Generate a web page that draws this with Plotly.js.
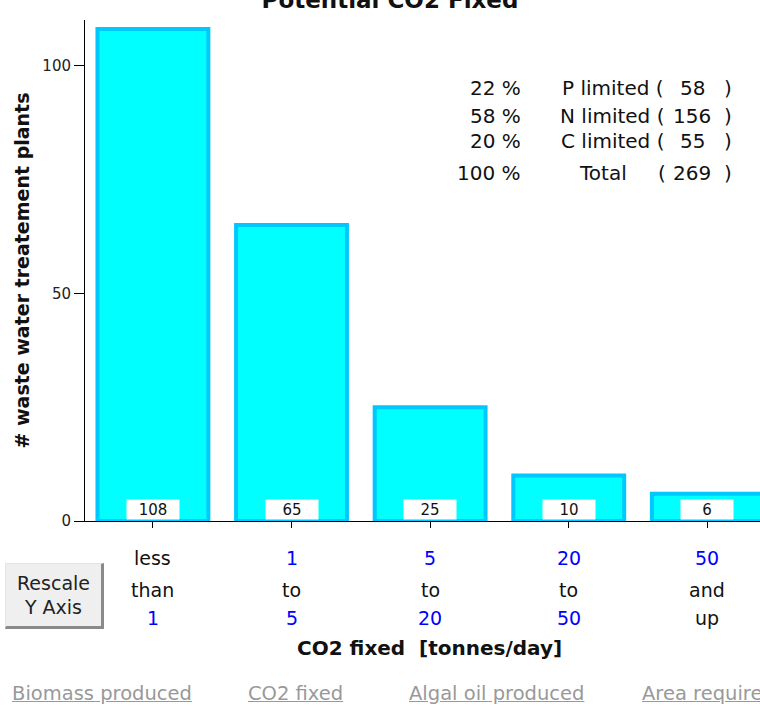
<!DOCTYPE html>
<html>
<head>
<meta charset="utf-8">
<script src="https://cdn.plot.ly/plotly-3.0.1.min.js"></script>
<style>
  html, body { margin: 0; padding: 0; background: #fff; }
  #wrap { position: relative; width: 760px; height: 722px; overflow: hidden; }
  #chart { position: absolute; left: 0; top: 0; width: 760px; height: 722px; }
  #btn {
    position: absolute; left: 5px; top: 563px; width: 99px; height: 66px;
    background: #efefef; border-top: 1px solid #e4e4e4; border-left: 1px solid #e4e4e4;
    border-right: 3px solid #8a8a8a; border-bottom: 3px solid #8a8a8a;
    font-family: "DejaVu Sans", Verdana, sans-serif; font-size: 19px; color: #222;
    text-align: center; line-height: 24px; padding-top: 7px; box-sizing: border-box;
  }
  .lnk {
    position: absolute; top: 682px; font-family: "DejaVu Sans", Verdana, sans-serif;
    font-size: 19.5px; color: #999; text-decoration: underline; white-space: nowrap;
  }
</style>
</head>
<body>
<div id="wrap">
  <div id="chart"></div>
  <div id="btn">Rescale<br>Y Axis</div>
  <span class="lnk" style="left:12px">Biomass produced</span>
  <span class="lnk" style="left:248px">CO2 fixed</span>
  <span class="lnk" style="left:409px">Algal oil produced</span>
  <span class="lnk" style="left:642px">Area required</span>
</div>
<script>
// ---- data ----
var categories = ['<1', '1-5', '5-20', '20-50', '50+'];
var plantCounts = [108, 65, 25, 10, 6];
var labelLine1 = ['less', '1', '5', '20', '50'];
var labelLine2 = ['than', 'to', 'to', 'to', 'and'];
var labelLine3 = ['1', '5', '20', '50', 'up'];
var limitPct = ['22 %', '58 %', '20 %', '100 %'];
var limitName = ['P limited (', 'N limited (', 'C limited (', 'Total'];
var limitCount = ['58', '156', '55', '269'];

var FONT = '"DejaVu Sans", Verdana, sans-serif';
// plot area in pixels: left 85, right 760, top 20, bottom 521
function px(x) { return (x - 85) / 675; }
function py(y) { return (521 - y) / 501; }

var annotations = [];
// value boxes on bars
categories.forEach(function (c, i) {
  annotations.push({
    x: c, xref: 'x', y: 0, yref: 'y', yanchor: 'bottom', yshift: 1,
    text: String(plantCounts[i]), showarrow: false,
    bgcolor: '#ffffff', width: 50, height: 17,
    font: { family: FONT, size: 15, color: '#111' }
  });
});
// three-line category labels
function isNum(s) { return /^[0-9]+$/.test(s); }
[[labelLine1, 558], [labelLine2, 590], [labelLine3, 618]].forEach(function (row) {
  categories.forEach(function (c, i) {
    var t = row[0][i];
    annotations.push({
      x: c, xref: 'x', y: py(row[1]), yref: 'paper', yanchor: 'middle',
      text: t, showarrow: false,
      font: { family: FONT, size: 19, color: isNum(t) ? '#0000ff' : '#111' }
    });
  });
});
// limitation table
var rowY = [88, 116, 141, 173];
var TF = { family: FONT, size: 20, color: '#111' };
limitPct.forEach(function (p, i) {
  var y = py(rowY[i]);
  annotations.push({ x: px(523), xref: 'paper', y: y, yref: 'paper', xanchor: 'right', yanchor: 'middle',
    text: p, showarrow: false, font: TF });
  if (i < 3) {
    annotations.push({ x: px(666), xref: 'paper', y: y, yref: 'paper', xanchor: 'right', yanchor: 'middle',
      text: limitName[i], showarrow: false, font: TF });
  } else {
    annotations.push({ x: px(603), xref: 'paper', y: y, yref: 'paper', xanchor: 'center', yanchor: 'middle',
      text: limitName[i], showarrow: false, font: TF });
    annotations.push({ x: px(662), xref: 'paper', y: y, yref: 'paper', xanchor: 'center', yanchor: 'middle',
      text: '(', showarrow: false, font: TF });
  }
  annotations.push({ x: px(692), xref: 'paper', y: y, yref: 'paper', xanchor: 'center', yanchor: 'middle',
    text: limitCount[i], showarrow: false, font: TF });
  annotations.push({ x: px(728), xref: 'paper', y: y, yref: 'paper', xanchor: 'center', yanchor: 'middle',
    text: ')', showarrow: false, font: TF });
});
// x-axis title
annotations.push({ x: px(429), xref: 'paper', y: py(648), yref: 'paper', yanchor: 'middle',
  text: '<b>CO2 fixed  [tonnes/day]</b>', showarrow: false,
  font: { family: FONT, size: 20, color: '#111' } });

var trace = {
  type: 'bar', x: categories, y: plantCounts, width: 0.8,
  marker: { color: '#00ffff', line: { color: '#00c8ff', width: 4 } },
  hoverinfo: 'none'
};

var layout = {
  width: 760, height: 722,
  margin: { l: 85, r: 0, t: 20, b: 201, pad: 0 },
  paper_bgcolor: '#ffffff', plot_bgcolor: '#ffffff',
  showlegend: false,
  title: { text: '<b>Potential CO2 Fixed</b>', font: { family: FONT, size: 23, color: '#111' },
    x: 390 / 760, xanchor: 'center', xref: 'container', y: 1, yref: 'container', yanchor: 'middle', pad: { t: 0 } },
  xaxis: {
    type: 'category', range: [-0.49, 4.38], showticklabels: false,
    ticks: 'outside', ticklen: 6, tickcolor: '#000', showline: true, linecolor: '#000', linewidth: 1,
    showgrid: false, zeroline: false, fixedrange: true
  },
  yaxis: {
    range: [0, 110], tickvals: [0, 50, 100], ticks: 'outside', ticklen: 10, tickcolor: '#000',
    showline: true, linecolor: '#000', linewidth: 1, showgrid: false, zeroline: false,
    tickfont: { family: FONT, size: 15, color: '#222' },
    title: { text: '<b># waste water treatement plants</b>', font: { family: FONT, size: 19, color: '#111' }, standoff: 7 },
    fixedrange: true
  },
  annotations: annotations
};

Plotly.newPlot('chart', [trace], layout, { displayModeBar: false, staticPlot: true });
</script>
</body>
</html>
